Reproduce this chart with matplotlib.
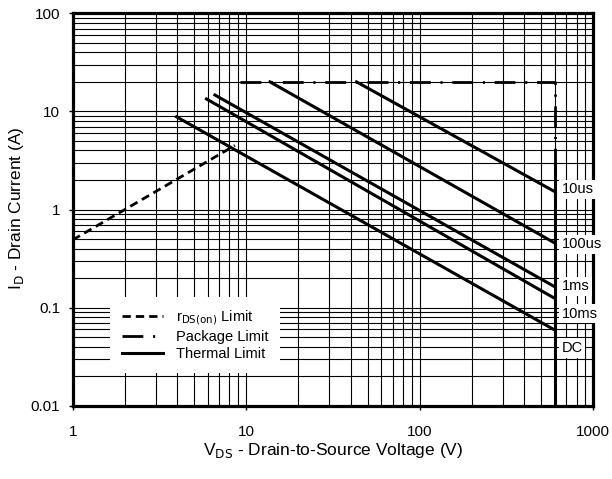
import numpy as np
import matplotlib.pyplot as plt
from matplotlib.lines import Line2D

plt.rcParams['font.family'] = ['Liberation Sans Narrow', 'Liberation Sans', 'DejaVu Sans']
plt.rcParams['lines.scale_dashes'] = False

# 安全工作区 (SOA) 数据
rds_v = [1.0, 8.6]
rds_i = [0.49, 4.5]

pkg_v = [9.2, 600, 600]
pkg_i = [20, 20, 3.0]

bv_v = [600, 600]
bv_i = [0.01, 3.0]

soa_names = ['10us', '100us', '1ms', '10ms', 'DC']
soa_v = [[43.2, 600], [13.7, 600], [6.6, 600], [5.9, 600], [3.97, 600]]
soa_i = [[20, 1.52], [20, 0.455], [14.7, 0.163], [13.4, 0.124], [8.8, 0.059]]
label_v = 655
label_i = [1.6, 0.44, 0.165, 0.087, 0.039]

fig = plt.figure(figsize=(6.12, 4.79), dpi=100)
ax = fig.add_axes([0.1188, 0.153, 0.8507, 0.8192])
ax.set_xscale('log')
ax.set_yscale('log')
ax.set_xlim(1, 1000)
ax.set_ylim(0.01, 100)

ax.grid(True, which='both', color='black', lw=0.8)
ax.set_axisbelow(True)
for s in ax.spines.values():
    s.set_linewidth(2.3)

ax.set_xticks([1, 10, 100, 1000])
ax.set_xticklabels(['1', '10', '100', '1000'])
ax.set_yticks([0.01, 0.1, 1, 10, 100])
ax.set_yticklabels(['0.01', '0.1', '1', '10', '100'])
ax.tick_params(which='major', length=3, width=1, labelsize=11)
ax.tick_params(axis='x', pad=11)
ax.tick_params(axis='y', pad=6)
ax.tick_params(which='minor', length=0)

ax.plot(rds_v, rds_i, color='black', lw=2.0, dashes=(6, 3.6))
ax.plot(pkg_v, pkg_i, color='black', lw=2.0, dashes=(15, 7, 1.5, 7))
ax.plot(bv_v, bv_i, color='black', lw=2.2)
for v, i in zip(soa_v, soa_i):
    ax.plot(v, i, color='black', lw=2.2)

# 右侧脉冲宽度标注
for name, yi in zip(soa_names, label_i):
    ax.text(label_v, yi, name, ha='left', va='center', fontsize=10.5,
            zorder=10, clip_on=False,
            bbox=dict(facecolor='white', edgecolor='none', pad=2))

handles = [
    Line2D([], [], color='black', lw=2.0, dashes=(6, 3.6)),
    Line2D([], [], color='black', lw=2.0, dashes=(15, 7, 1.5, 7)),
    Line2D([], [], color='black', lw=2.2),
]
leg = ax.legend(handles, [r'r$_{\mathrm{DS(on)}}$ Limit', 'Package Limit', 'Thermal Limit'],
                loc='upper left', bbox_to_anchor=(0.072, 0.277), borderaxespad=0,
                fontsize=10.5, frameon=True, fancybox=False, framealpha=1,
                edgecolor='white', handlelength=2.8, handletextpad=0.9,
                labelspacing=0.2, borderpad=0.8)
leg.get_frame().set_linewidth(0)

fig.text(333 / 612, 1 - 450 / 479, r'V$_{\mathrm{DS}}$ - Drain-to-Source Voltage (V)',
         fontsize=12.5, ha='center', va='center')
fig.text(17 / 612, 1 - 208 / 479, r'I$_{\mathrm{D}}$ - Drain Current (A)',
         fontsize=12.5, ha='center', va='center', rotation=90)

fig.savefig('out.png', dpi=100)
